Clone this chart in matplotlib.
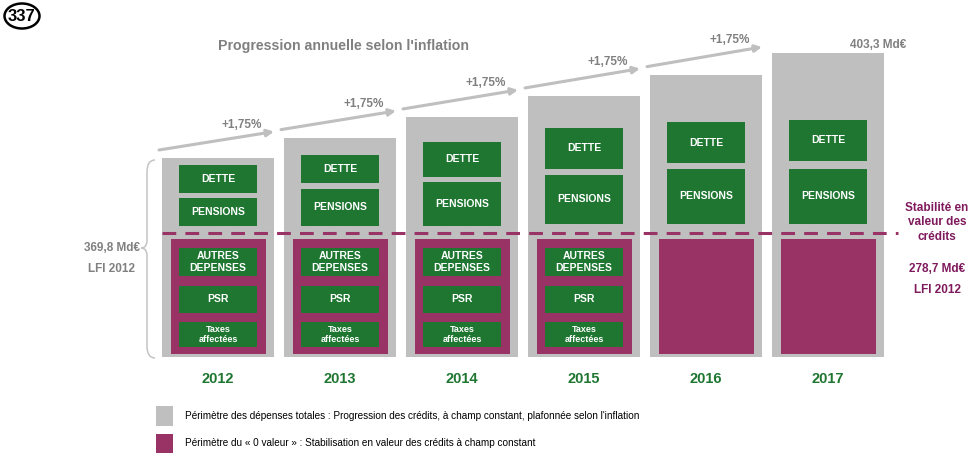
import matplotlib
matplotlib.use("Agg")
import matplotlib.pyplot as plt
from matplotlib.patches import Rectangle, Ellipse, PathPatch
from matplotlib.path import Path

plt.rcParams['font.family'] = ['Liberation Sans', 'DejaVu Sans']

# data
years = ['2012', '2013', '2014', '2015', '2016', '2017']
totals = [369.8, 376.3, 382.9, 389.6, 396.4, 403.3]   # Md€, progression +1,75 %/an
growth_labels = ['+1,75%'] * 5
first_total_label = '369,8 Md€'
last_total_label = '403,3 Md€'
stable_label = '278,7 Md€'
upper_boxes = ['DETTE', 'PENSIONS']
lower_boxes = ['AUTRES\nDEPENSES', 'PSR', 'Taxes\naffectées']
has_detail = [True, True, True, True, False, False]
legend_items = [
    "Périmètre des dépenses totales : Progression des crédits, à champ constant, plafonnée selon l'inflation",
    "Périmètre du « 0 valeur » : Stabilisation en valeur des crédits à champ constant",
]

GRAY = '#bfbfbf'
TXTGRAY = '#808080'
MAG = '#993366'
MAGTXT = '#7f1a5c'
GREEN = '#1e7631'

W, H = 975, 454
fig = plt.figure(figsize=(W / 100, H / 100), dpi=100)
ax = fig.add_axes([0, 0, 1, 1])

# value axis: bar bottom at pixel 357, 3.134 px per Md€, bars every 122 px
base = 306.3
k = 3.134
x0, pitch = 218, 122
ax.set_xlim(-x0 / pitch, (W - x0) / pitch)
ax.set_ylim(base - (H - 357) / k, base + 357 / k)
ax.axis('off')


def px(x):
    return (x - x0) / pitch


def py(y):
    return base + (357 - y) / k


def dx(d):
    return d / pitch


def dy(d):
    return d / k


bw = 112 / pitch
idx = list(range(len(years)))
ax.bar(idx, [t - base for t in totals], bottom=base, width=bw, color=GRAY, zorder=1)

# upper green boxes (pixel layout)
dette_px = [(165, 193), (155, 183), (142, 177), (128, 169), (122, 163), (120, 161)]
pens_px = [(198, 226), (189, 226), (182, 226), (175, 224), (169, 224), (169, 224)]
lower_px = [(248, 276), (286, 313), (322, 347)]
gw = dx(78)


def gbox(i, top, bot, label, size):
    ax.add_patch(Rectangle((i - gw / 2, py(bot)), gw, py(top) - py(bot),
                           color=GREEN, zorder=3, lw=0))
    ax.text(i, py((top + bot) / 2), label, color='white', fontsize=size,
            fontweight='bold', ha='center', va='center', zorder=4, linespacing=1.15)


for i in idx:
    gbox(i, *dette_px[i], upper_boxes[0], 7.5)
    gbox(i, *pens_px[i], upper_boxes[1], 7.5)
    # magenta "0 valeur" block
    mw = dx(95)
    ax.add_patch(Rectangle((i - mw / 2, py(354)), mw, py(239) - py(354),
                           color=MAG, zorder=2, lw=0))
    if has_detail[i]:
        for (t, b), lab in zip(lower_px, lower_boxes):
            gbox(i, t, b, lab, 6.5 if lab.startswith('Taxes') else 7.5)
    ax.text(i, py(379), years[i], color=GREEN, fontsize=10.5, fontweight='bold',
            ha='center', va='center')

# dashed stability line
ax.plot([px(162), px(898)], [py(233), py(233)], color=MAG, lw=2.2,
        dashes=(4.5, 3), zorder=5)

# growth arrows
for i in range(len(years) - 1):
    y_start = totals[i] + dy(8)
    y_end = totals[i + 1] + dy(6)
    xs = i - bw / 2 - dx(3)
    xe = i + bw / 2
    ax.annotate('', xy=(xe, y_end), xytext=(xs, y_start),
                arrowprops=dict(arrowstyle='-|>', color=GRAY, lw=2.2,
                                mutation_scale=10, shrinkA=0, shrinkB=0))
    ax.text(xe - dx(32), y_end + dy(7), growth_labels[i], color=TXTGRAY,
            fontsize=8.5, fontweight='bold', ha='center', va='center')

ax.text(px(343), py(46), "Progression annuelle selon l'inflation", color=TXTGRAY,
        fontsize=10.2, fontweight='bold', ha='center', va='center')
ax.text(px(906), py(45), last_total_label, color=TXTGRAY, fontsize=8.5,
        fontweight='bold', ha='right', va='center')

# left brace and label
ax.text(px(112), py(248), first_total_label, color=TXTGRAY, fontsize=8.5,
        fontweight='bold', ha='center', va='center')
ax.text(px(112), py(269), 'LFI 2012', color=TXTGRAY, fontsize=8.5,
        fontweight='bold', ha='center', va='center')
brace_pts = [(155, 160), (147, 160), (147, 172), (147, 240), (147, 248), (141, 248),
             (147, 248), (147, 256), (147, 346), (147, 358), (155, 358)]
codes = [Path.MOVETO, Path.CURVE3, Path.CURVE3, Path.LINETO, Path.CURVE3, Path.CURVE3,
         Path.CURVE3, Path.CURVE3, Path.LINETO, Path.CURVE3, Path.CURVE3]
brace = Path([(px(a), py(b)) for a, b in brace_pts], codes)
ax.add_patch(PathPatch(brace, fill=False, ec='#c4c4c4', lw=1.1))

# right labels
for yy, s in zip([208, 222, 237], ['Stabilité en', 'valeur des', 'crédits']):
    ax.text(px(937), py(yy), s, color=MAGTXT, fontsize=8.5, fontweight='bold',
            ha='center', va='center')
ax.text(px(937), py(269), stable_label, color=MAGTXT, fontsize=8.5,
        fontweight='bold', ha='center', va='center')
ax.text(px(937), py(290), 'LFI 2012', color=MAGTXT, fontsize=8.5,
        fontweight='bold', ha='center', va='center')

# legend
for (yt, yb), col, txt in zip([(406, 426), (434, 453)], [GRAY, MAG], legend_items):
    ax.add_patch(Rectangle((px(156), py(yb)), dx(17), py(yt) - py(yb), color=col, lw=0))
    ax.text(px(185), py((yt + yb) / 2), txt, color='black', fontsize=7.2,
            ha='left', va='center')

# page number badge
ax.add_patch(Ellipse((px(22), py(16)), dx(35), dy(25), fill=False, lw=1.8, ec='black'))
ax.text(px(22), py(16.5), '337', fontsize=12, fontweight='bold', ha='center',
        va='center', family=['Liberation Sans Narrow', 'Liberation Sans'])

fig.savefig('out.png', dpi=100)
